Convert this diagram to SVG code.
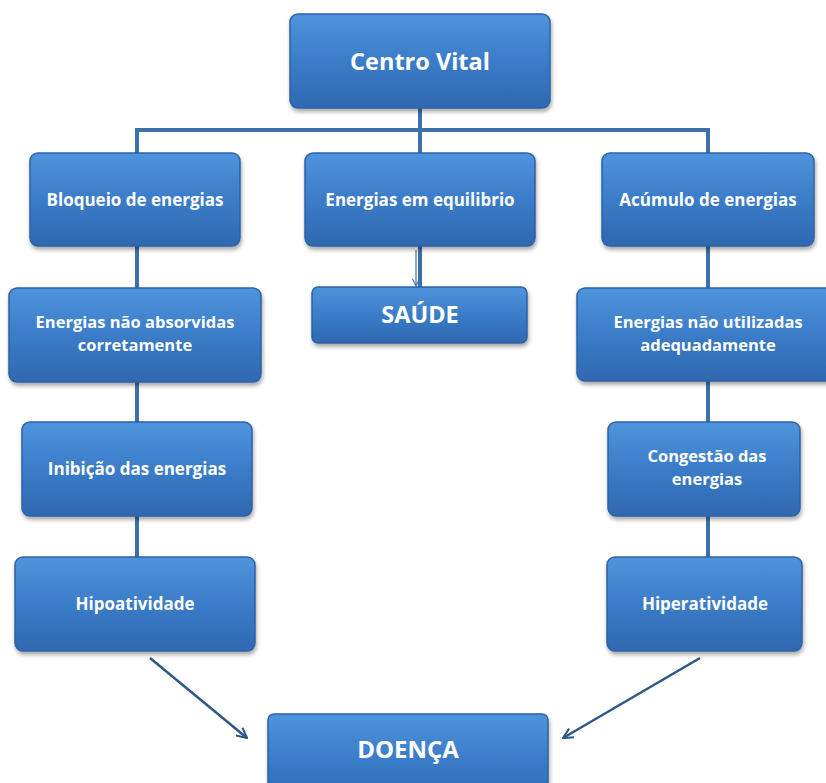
<svg xmlns="http://www.w3.org/2000/svg" width="826" height="783" viewBox="0 0 826 783">
<defs>
<linearGradient id="g" x1="0" y1="0" x2="0" y2="1">
<stop offset="0" stop-color="#4f94dc"/>
<stop offset="0.5" stop-color="#3b7cc8"/>
<stop offset="1" stop-color="#2f68b0"/>
</linearGradient>
<filter id="sh" x="-10%" y="-10%" width="120%" height="130%">
<feGaussianBlur in="SourceAlpha" stdDeviation="2"/>
<feOffset dx="1" dy="3" result="b"/>
<feComponentTransfer><feFuncA type="linear" slope="0.35"/></feComponentTransfer>
<feMerge><feMergeNode/><feMergeNode in="SourceGraphic"/></feMerge>
</filter>
<marker id="ah" viewBox="0 0 12 12" refX="11" refY="6" markerWidth="12" markerHeight="12" markerUnits="userSpaceOnUse" orient="auto">
<path d="M1,1 L11,6 L1,11" fill="none" stroke="#2d5888" stroke-width="2"/>
</marker>
<marker id="ah2" viewBox="0 0 10 10" refX="9" refY="5" markerWidth="9" markerHeight="9" markerUnits="userSpaceOnUse" orient="auto">
<path d="M1,1 L9,5 L1,9" fill="none" stroke="#3d6fa8" stroke-width="1.2"/>
</marker>
</defs>
<style>
.box{fill:url(#g);stroke:#2d62a6;stroke-width:1.5;filter:url(#sh)}
.t{font-family:"Open Sans","Liberation Sans",sans-serif;font-weight:bold;fill:#ffffff;text-anchor:middle;font-size:17px}
.m{font-size:16.5px}
.big{font-size:23.5px}
.conn{stroke:#3d6fa8;stroke-width:4;fill:none}
.diag{stroke:#2d5888;stroke-width:2.5;fill:none}
</style>
<rect width="826" height="783" fill="#ffffff"/>
<g id="connectors">
<path class="conn" d="M420,108 V130 M137,130 H710 M137,128 V557 M708,128 V557 M420,130 V153 M420,246 V287"/>
<line x1="416" y1="250" x2="416" y2="286" stroke="#3d6fa8" stroke-width="1.2" marker-end="url(#ah2)"/>
<line class="diag" x1="150" y1="658" x2="247" y2="738" marker-end="url(#ah)"/>
<line class="diag" x1="700" y1="658" x2="563" y2="738" marker-end="url(#ah)"/>
</g>
<g id="centro-vital"><rect class="box" x="290" y="14" width="260" height="94" rx="8"/><text class="t big" x="420" y="70">Centro Vital</text></g>
<g id="bloqueio"><rect class="box" x="30" y="153" width="210" height="93" rx="8"/><text class="t" x="135" y="206">Bloqueio de energias</text></g>
<g id="equilibrio"><rect class="box" x="305" y="153" width="230" height="93" rx="8"/><text class="t" x="420" y="206">Energias em equilibrio</text></g>
<g id="acumulo"><rect class="box" x="602" y="153" width="212" height="93" rx="8"/><text class="t" x="708" y="206">Acúmulo de energias</text></g>
<g id="nao-absorvidas"><rect class="box" x="9" y="288" width="252" height="94" rx="8"/><text class="t m" x="135" y="328">Energias não absorvidas</text><text class="t m" x="135" y="351">corretamente</text></g>
<g id="saude"><rect class="box" x="312" y="287" width="215" height="56" rx="6"/><text class="t big" x="420" y="323">SAÚDE</text></g>
<g id="nao-utilizadas"><rect class="box" x="577" y="288" width="262" height="93" rx="8"/><text class="t m" x="708" y="328">Energias não utilizadas</text><text class="t m" x="708" y="351">adequadamente</text></g>
<g id="inibicao"><rect class="box" x="22" y="422" width="230" height="94" rx="8"/><text class="t" x="137" y="475">Inibição das energias</text></g>
<g id="congestao"><rect class="box" x="608" y="422" width="192" height="94" rx="8"/><text class="t m" x="707" y="462">Congestão das</text><text class="t m" x="707" y="485">energias</text></g>
<g id="hipoatividade"><rect class="box" x="15" y="557" width="240" height="94" rx="8"/><text class="t" x="135" y="610">Hipoatividade</text></g>
<g id="hiperatividade"><rect class="box" x="607" y="557" width="195" height="94" rx="8"/><text class="t" x="705" y="610">Hiperatividade</text></g>
<g id="doenca"><rect class="box" x="268" y="714" width="280" height="90" rx="6"/><text class="t big" x="408" y="758" style="font-size:24px">DOENÇA</text></g>
</svg>
